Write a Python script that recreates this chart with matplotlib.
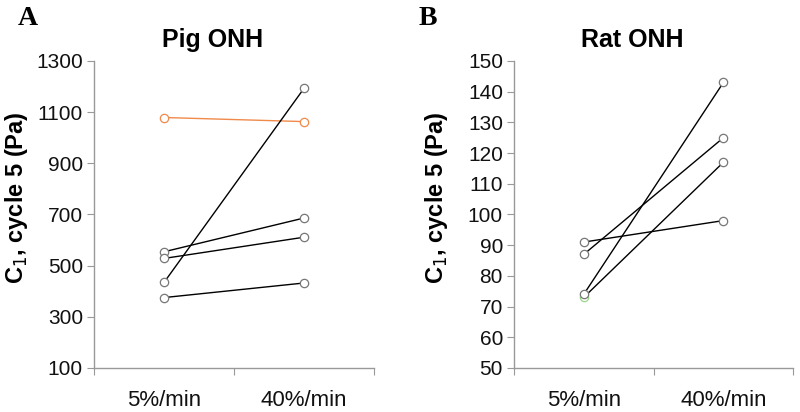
import matplotlib.pyplot as plt

plt.rcParams['font.family'] = ['Liberation Sans', 'DejaVu Sans']

# ===================================
# Data
# ===================================

rates = ['5%/min', '40%/min']

pig_5 = [1079, 434, 554, 528, 375]
pig_40 = [1063, 1193, 686, 611, 432]
pig_colors = ['#f08a4b', 'black', 'black', 'black', 'black']
pig_ticks = [100, 300, 500, 700, 900, 1100, 1300]

rat_5 = [91, 87, 74, 73]
rat_40 = [98, 125, 143, 117]
rat_edge_5 = ['#777777', '#777777', '#777777', '#9bd88a']
rat_ticks = [50, 60, 70, 80, 90, 100, 110, 120, 130, 140, 150]


def style_axis(ax, ticks, title):
    ax.set_xlim(0, 2)
    ax.set_ylim(ticks[0], ticks[-1])
    ax.set_yticks(ticks)
    ax.set_xticks([0, 1, 2])
    ax.set_xticklabels([])
    ax.set_xticks([0.5, 1.5], minor=True)
    ax.set_xticklabels(rates, minor=True)
    ax.tick_params(axis='x', which='minor', length=0, pad=16, labelsize=16, labelcolor='#111111')
    ax.tick_params(axis='x', which='major', length=5, color='#999999')
    ax.tick_params(axis='y', length=5, color='#999999', labelsize=15, pad=3, labelcolor='#111111')
    for s in ['top', 'right']:
        ax.spines[s].set_visible(False)
    for s in ['left', 'bottom']:
        ax.spines[s].set_color('#999999')
        ax.spines[s].set_linewidth(1.0)
    ax.set_title(title, fontsize=18, fontweight='bold', pad=10, x=0.425)
    ax.set_ylabel('C$_1$, cycle 5 (Pa)', fontsize=17, fontweight='bold')
    ax.yaxis.set_label_coords(-0.23, 0.555)


fig = plt.figure(figsize=(8, 4.12), dpi=100)
ax1 = fig.add_axes([0.1175, 0.107, 0.35, 0.745])
ax2 = fig.add_axes([0.6425, 0.107, 0.349, 0.745])

for a, b, c in zip(pig_5, pig_40, pig_colors):
    ax1.plot([0.5, 1.5], [a, b], color=c, lw=1.0, marker='o', ms=6,
             mfc='white', mec='#777777' if c == 'black' else c, mew=0.9, zorder=3)

for a, b, e in zip(rat_5[::-1], rat_40[::-1], rat_edge_5[::-1]):
    ax2.plot([0.5, 1.5], [a, b], color='black', lw=1.0, zorder=2)
    ax2.plot([0.5], [a], 'o', ms=6, mfc='white', mec=e, mew=0.9, zorder=3)
    ax2.plot([1.5], [b], 'o', ms=6, mfc='white', mec='#777777', mew=0.9, zorder=3)

style_axis(ax1, pig_ticks, 'Pig ONH')
style_axis(ax2, rat_ticks, 'Rat ONH')

fig.text(0.035, 0.955, 'A', fontsize=20, fontweight='bold', family='Liberation Serif', va='center', ha='center')
fig.text(0.535, 0.955, 'B', fontsize=20, fontweight='bold', family='Liberation Serif', va='center', ha='center')

plt.savefig('out.png', dpi=100)
